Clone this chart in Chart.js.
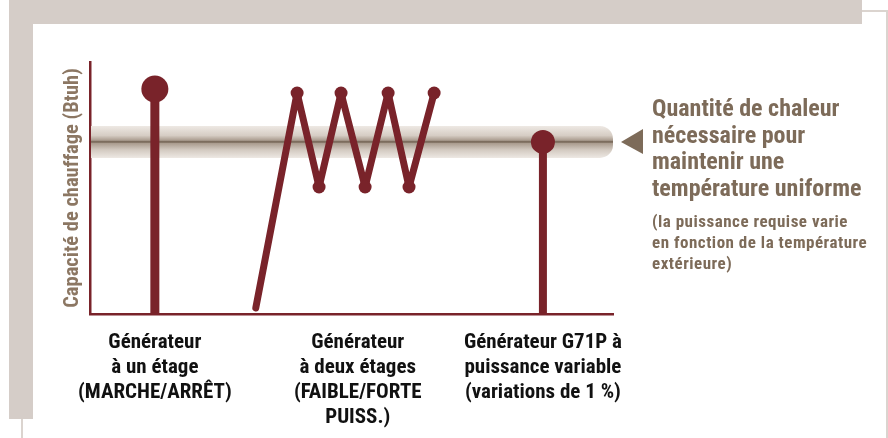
<!DOCTYPE html>
<html>
<head>
  <meta charset="utf-8">
  <title>Capacité de chauffage</title>
  <script src="https://cdn.jsdelivr.net/npm/chart.js@4.4.0/dist/chart.umd.min.js"></script>
  <style>
    body { margin: 0; background: #fff; }
    #wrap { position: relative; width: 888px; height: 438px; overflow: hidden; }
    .bg { position: absolute; background: #d5cdc8; }
    #note {
      position: absolute; left: 652px; top: 95px;
      font-family: "Roboto Condensed", "DejaVu Sans Condensed", sans-serif;
      font-weight: bold; color: #7d6b59; white-space: nowrap;
    }
    #note .big { font-size: 24px; line-height: 26.5px; }
    #note .small { font-size: 17px; line-height: 21px; margin-top: 10px; letter-spacing: 0.5px; }
    canvas { position: absolute; left: 0; top: 0; }
  </style>
</head>
<body>
<div id="wrap">
  <div class="bg" style="left:9px;top:0;width:853px;height:24px"></div>
  <div class="bg" style="left:9px;top:0;width:24px;height:419px"></div>
  <div class="bg" style="left:21px;top:419px;width:2px;height:19px;background:#dbd4cf"></div>
  <div class="bg" style="left:862px;top:10px;width:26px;height:2px;background:#dbd4cf"></div>
  <div class="bg" style="left:886px;top:10px;width:2px;height:428px;background:#dbd4cf"></div>
  <canvas id="myChart" width="888" height="438"></canvas>
  <div id="note">
    <div class="big">Quantité de chaleur<br>nécessaire pour<br>maintenir une<br>température uniforme</div>
    <div class="small">(la puissance requise varie<br>en fonction de la température<br>extérieure)</div>
  </div>
</div>

<script>
  // libellés des catégories (axe x)
  const categories = [
    ['Générateur', 'à un étage', '(MARCHE/ARRÊT)'],
    ['Générateur', 'à deux étages', '(FAIBLE/FORTE', 'PUISS.)'],
    ['Générateur G71P à', 'puissance variable', '(variations de 1 %)']
  ];
  const categoryX = [12.4, 51.2, 86.6];

  // un étage : marche / arrêt
  const singleStageX = [12.4, 12.4];
  const singleStageY = [0, 89.3];

  // deux étages : faible / forte
  const twoStageX = [31.7, 39.6, 43.8, 48.0, 52.6, 57.0, 61.0, 65.8];
  const twoStageY = [2.4, 87.7, 50.4, 87.7, 50.4, 87.7, 50.4, 87.7];

  // G71P : puissance variable
  const variableX = [86.6, 86.6];
  const variableY = [0, 68.3];

  // chaleur nécessaire
  const requiredLoad = 68.3;

  const red = '#79232a';
  const tan = '#7d6b59';
  const narrow = '"Roboto Condensed", "DejaVu Sans Condensed", sans-serif';

  const pts = (xs, ys) => xs.map((x, i) => ({x: x, y: ys[i]}));

  const bandPlugin = {
    id: 'band',
    beforeDatasetsDraw(chart) {
      const {ctx, chartArea} = chart;
      const cy = chart.scales.y.getPixelForValue(requiredLoad);
      const h = 32;
      const left = chartArea.left + 1;
      const right = chartArea.right;
      const g = ctx.createLinearGradient(0, cy - h / 2, 0, cy + h / 2);
      g.addColorStop(0, '#eee9e4');
      g.addColorStop(0.3, '#d6cdc4');
      g.addColorStop(0.45, '#ab9d90');
      g.addColorStop(0.5, '#6e5e4e');
      g.addColorStop(0.55, '#ab9d90');
      g.addColorStop(0.75, '#d3cac1');
      g.addColorStop(1, '#ede8e3');
      ctx.save();
      ctx.fillStyle = g;
      ctx.beginPath();
      ctx.roundRect(left, cy - h / 2, right - left, h, [0, 13, 13, 0]);
      ctx.fill();
      // flèche
      ctx.fillStyle = tan;
      ctx.beginPath();
      ctx.moveTo(right + 8, cy);
      ctx.lineTo(right + 30, cy - 13);
      ctx.lineTo(right + 30, cy + 12);
      ctx.closePath();
      ctx.fill();
      ctx.restore();
    }
  };

  const ctx = document.getElementById('myChart').getContext('2d');
  const myChart = new Chart(ctx, {
    type: 'scatter',
    data: {
      datasets: [
        {
          data: pts(singleStageX, singleStageY),
          showLine: true,
          borderColor: red,
          borderWidth: 9,
          pointRadius: [0, 13.5],
          pointHoverRadius: [0, 13.5],
          pointBackgroundColor: red,
          pointBorderWidth: 0,
          clip: false
        },
        {
          data: pts(twoStageX, twoStageY),
          showLine: true,
          borderColor: red,
          borderWidth: 7,
          borderCapStyle: 'round',
          borderJoinStyle: 'round',
          pointRadius: [0, 6.5, 6.5, 6.5, 6.5, 6.5, 6.5, 6.5],
          pointHoverRadius: [0, 6.5, 6.5, 6.5, 6.5, 6.5, 6.5, 6.5],
          pointBackgroundColor: red,
          pointBorderWidth: 0,
          clip: false
        },
        {
          data: pts(variableX, variableY),
          showLine: true,
          borderColor: red,
          borderWidth: 8,
          pointRadius: [0, 12],
          pointHoverRadius: [0, 12],
          pointBackgroundColor: red,
          pointBorderWidth: 0,
          clip: false
        }
      ]
    },
    options: {
      responsive: false,
      animation: false,
      events: [],
      layout: { padding: { left: 57, top: 62, right: 275, bottom: 0 } },
      plugins: { legend: { display: false }, tooltip: { enabled: false } },
      scales: {
        x: {
          type: 'linear',
          min: 0,
          max: 100,
          grid: { display: false },
          border: { display: true, color: red, width: 2.5 },
          afterBuildTicks: (scale) => { scale.ticks = categoryX.map(v => ({value: v})); },
          afterFit: (scale) => { scale.height = 124; },
          ticks: {
            autoSkip: false,
            maxRotation: 0,
            padding: 8,
            color: '#111',
            font: { family: narrow, size: 21, weight: 'bold', lineHeight: 1.2 },
            callback: (v, i) => categories[i]
          }
        },
        y: {
          min: 0,
          max: 100,
          grid: { display: false },
          border: { display: true, color: red, width: 2.5 },
          ticks: { display: false },
          afterFit: (scale) => { scale.width = 33; },
          title: {
            display: true,
            text: 'Capacité de chauffage (Btuh)',
            color: '#8c7763',
            font: { family: narrow, size: 20.5, weight: 'bold' }
          }
        }
      }
    },
    plugins: [bandPlugin]
  });
</script>
</body>
</html>
